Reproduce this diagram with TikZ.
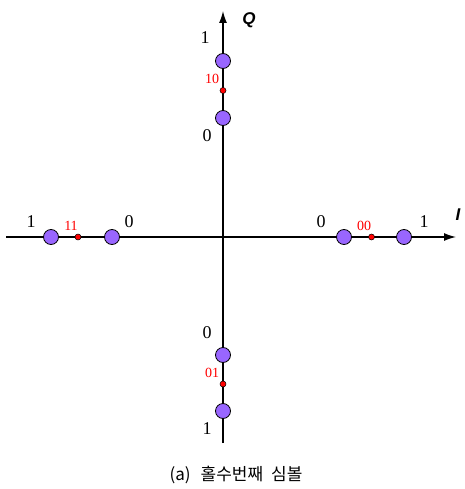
\documentclass[tikz,border=0pt]{standalone}
\usepackage{fontspec}
\setmainfont{Liberation Serif}
\newfontfamily\capfont{Noto Sans CJK KR}
\newfontfamily\axfont{Liberation Sans}
\usetikzlibrary{arrows.meta}
\definecolor{sympurple}{RGB}{153,102,255}
\tikzset{
  sym/.style={circle, draw=black, fill=sympurple, line width=0.8pt, minimum size=15pt, inner sep=0pt},
  mid/.style={circle, draw=black, fill=red, line width=0.5pt, minimum size=6pt, inner sep=0pt},
  bitlbl/.style={font=\fontsize{18}{18}\selectfont, inner sep=0pt},
  redlbl/.style={font=\fontsize{14}{14}\selectfont, text=red, inner sep=0pt},
  axlbl/.style={font=\axfont\bfseries\itshape\fontsize{17}{17}\selectfont, inner sep=0pt},
  axis/.style={line width=1.3pt, -{Latex[length=12pt,width=8pt]}}
}
\begin{document}
\begin{tikzpicture}[x=1pt,y=-1pt]
\useasboundingbox (0,0) rectangle (464,489);
% axes
\coordinate (xl) at (6,237);
\coordinate (xr) at (456,237);
\coordinate (yb) at (223,443);
\coordinate (yt) at (223,11);
\draw[axis] (xl) -- (xr);
\draw[axis] (yb) -- (yt);
% symbols
\node[sym] (t1) at (223,61) {};
\node[sym] (t0) at (223,118) {};
\node[mid] (tm) at (223,90.5) {};
\node[sym] (b0) at (223,355) {};
\node[sym] (b1) at (223,411) {};
\node[mid] (bm) at (223,384) {};
\node[sym] (l1) at (51,237) {};
\node[sym] (l0) at (112,237) {};
\node[mid] (lm) at (78,237) {};
\node[sym] (r0) at (344,237) {};
\node[sym] (r1) at (404,237) {};
\node[mid] (rm) at (371.5,237) {};
% labels
\node[bitlbl] (lt1) at (205,38) {1};
\node[redlbl] (lt10) at (212,79) {10};
\node[bitlbl] (lt0) at (207,136) {0};
\node[axlbl] (lq) at (249,20) {Q};
\node[bitlbl] (lb0) at (207,333) {0};
\node[redlbl] (lb01) at (212,373) {01};
\node[bitlbl] (lb1) at (207,429) {1};
\node[bitlbl] (ll1) at (31,222) {1};
\node[redlbl] (ll11) at (71,226) {11};
\node[bitlbl] (ll0) at (129,222) {0};
\node[bitlbl] (lr0) at (321,222) {0};
\node[redlbl] (lr00) at (364,226) {00};
\node[bitlbl] (lr1) at (424,222) {1};
\node[axlbl] (li) at (458,215) {I};
% caption
\node[font=\capfont\fontsize{17}{17}\selectfont, inner sep=0pt] (cap) at (236,475) {(a)\hspace{10pt}홀수번째\hspace{8pt}심볼};
\end{tikzpicture}
\end{document}
